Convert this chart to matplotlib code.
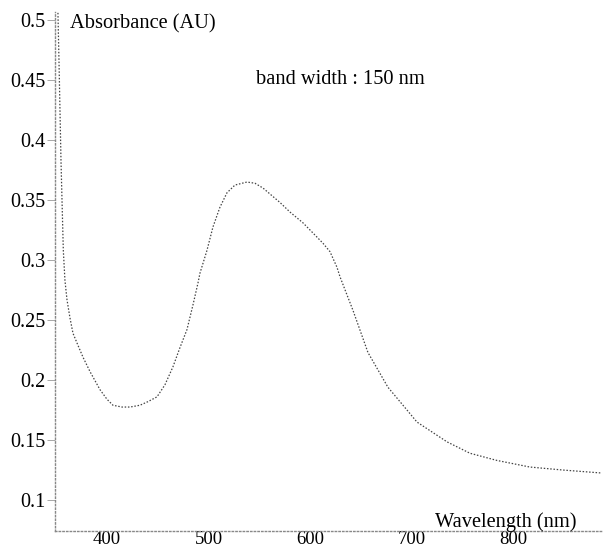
import matplotlib.pyplot as plt
import numpy as np

# spectrum
wavelength = [351.7, 352.7, 353.7, 354.7, 355.7, 357.0, 358.6, 360.6, 363.5, 366.5,
              371.4, 376.4, 383.3, 393.1, 400.0, 405.9, 414.8, 422.7, 432.5, 440.4,
              449.3, 457.1, 465.0, 471.9, 478.8, 484.7, 489.7, 491.6, 498.5, 504.4,
              511.3, 518.2, 526.1, 537.9, 545.8, 553.7, 570.4, 580.3, 593.1, 603.0,
              612.8, 619.7, 626.6, 629.6, 642.4, 657.1, 676.8, 695.6, 705.4, 735.0,
              757.6, 784.2, 816.7, 849.3, 887.7]
absorbance = [0.506, 0.467, 0.425, 0.383, 0.350, 0.308, 0.283, 0.267, 0.252, 0.239,
              0.229, 0.219, 0.207, 0.192, 0.184, 0.179, 0.1775, 0.1775, 0.179, 0.182,
              0.186, 0.196, 0.211, 0.227, 0.242, 0.2625, 0.281, 0.289, 0.308, 0.3275,
              0.344, 0.356, 0.3625, 0.365, 0.364, 0.360, 0.348, 0.340, 0.331, 0.3225,
              0.314, 0.307, 0.294, 0.286, 0.258, 0.223, 0.194, 0.175, 0.165, 0.1485,
              0.139, 0.133, 0.1275, 0.125, 0.1225]

x_ticks = [400, 500, 600, 700, 800]
y_ticks = [0.1, 0.15, 0.2, 0.25, 0.3, 0.35, 0.4, 0.45, 0.5]
y_labels = ['0.1', '0.15', '0.2', '0.25', '0.3', '0.35', '0.4', '0.45', '0.5']

plt.rcParams['font.family'] = ['Liberation Serif', 'DejaVu Serif']

fig = plt.figure(figsize=(6.03, 5.54), dpi=100)
ax = fig.add_axes([55 / 603, 23 / 554, 548 / 603, 519 / 554])

ax.plot(wavelength, absorbance, color='#444444', lw=0.9, ls=(0, (1.2, 1.4)))

ax.set_xlim(348.8, 888.7)
ax.set_ylim(0.0742, 0.5067)

ax.set_xticks(x_ticks)
ax.set_xticklabels([str(t) for t in x_ticks])
ax.set_yticks(y_ticks)
ax.set_yticklabels(y_labels)
ax.tick_params(axis='y', length=6, width=0.6, color='#999999', labelsize=14.5, pad=1)
ax.tick_params(axis='x', length=0, labelsize=13.5, pad=0)

for side in ['top', 'right']:
    ax.spines[side].set_visible(False)
for side in ['left', 'bottom']:
    ax.spines[side].set_color('#888888')
    ax.spines[side].set_linestyle(':')
    ax.spines[side].set_linewidth(1.0)

ax.text(363.5, 0.4967, 'Absorbance (AU)', fontsize=14.7, va='center', ha='left')
ax.text(546.8, 0.4508, 'band width : 150 nm', fontsize=14.7, va='center', ha='left')
ax.text(723, 0.0775, 'Wavelength (nm)', fontsize=14.7, va='baseline', ha='left')

fig.savefig('out.png', dpi=100)
